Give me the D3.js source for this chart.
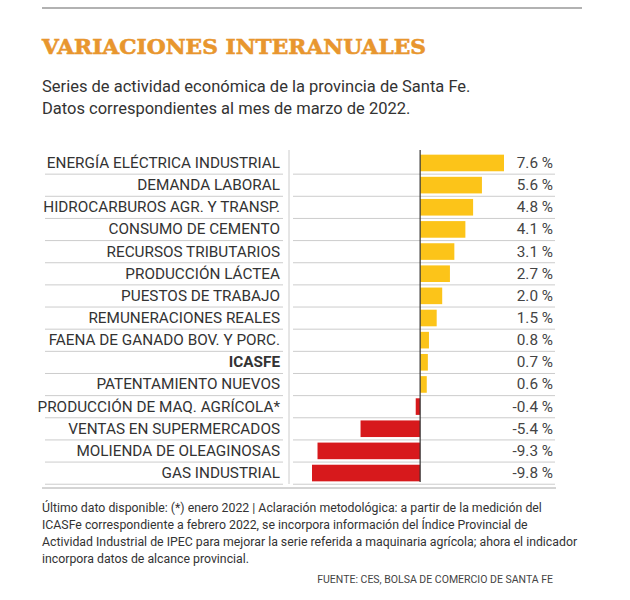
<!DOCTYPE html>
<html><head><meta charset="utf-8">
<script src="https://cdn.jsdelivr.net/npm/d3@7"></script>
<style>body{margin:0;background:#fff}</style></head>
<body><svg id="c" width="630" height="600"></svg>
<script>
const categories=["ENERGÍA ELÉCTRICA INDUSTRIAL","DEMANDA LABORAL","HIDROCARBUROS AGR. Y TRANSP.","CONSUMO DE CEMENTO","RECURSOS TRIBUTARIOS","PRODUCCIÓN LÁCTEA","PUESTOS DE TRABAJO","REMUNERACIONES REALES","FAENA DE GANADO BOV. Y PORC.","ICASFE","PATENTAMIENTO NUEVOS","PRODUCCIÓN DE MAQ. AGRÍCOLA*","VENTAS EN SUPERMERCADOS","MOLIENDA DE OLEAGINOSAS","GAS INDUSTRIAL"];
const values=[7.6,5.6,4.8,4.1,3.1,2.7,2.0,1.5,0.8,0.7,0.6,-0.4,-5.4,-9.3,-9.8];
const valueLabels=["7.6 %","5.6 %","4.8 %","4.1 %","3.1 %","2.7 %","2.0 %","1.5 %","0.8 %","0.7 %","0.6 %","-0.4 %","-5.4 %","-9.3 %","-9.8 %"];
const svg=d3.select("#c");
const F="'Liberation Sans Narrow','Roboto',sans-serif";
svg.append("line").attr("x1",42).attr("x2",582).attr("y1",8).attr("y2",8).attr("stroke","#999").attr("stroke-width",1.5);
svg.append("text").attr("x",42).attr("y",54).text("VARIACIONES INTERANUALES").attr("fill","#E8962E").attr("stroke","#E8962E").attr("stroke-width",0.6).attr("font-family","'DejaVu Serif',serif").attr("font-weight","bold").attr("font-size",21).attr("textLength",384).attr("lengthAdjust","spacingAndGlyphs");
svg.append("text").attr("x",42).attr("y",92).text("Series de actividad económica de la provincia de Santa Fe.").attr("font-family","Roboto,sans-serif").attr("font-size",16.5).attr("fill","#333");
svg.append("text").attr("x",42).attr("y",114).text("Datos correspondientes al mes de marzo de 2022.").attr("font-family","Roboto,sans-serif").attr("font-size",16.5).attr("fill","#333");
const y=d3.scaleBand().domain(categories).range([152,484]).paddingInner(0.25).paddingOuter(0.12);
const x=d3.scaleLinear().domain([-9.8,7.6]).range([312,504]);
const step=y.step();
const g=svg.append("g");
categories.forEach((c,i)=>{
  const ly=152+step*(i+1);
  g.append("line").attr("x1",45).attr("x2",283).attr("y1",ly).attr("y2",ly).attr("stroke","#ccc");
  g.append("line").attr("x1",293).attr("x2",555).attr("y1",ly).attr("y2",ly).attr("stroke","#ccc");
});
svg.append("line").attr("x1",289).attr("x2",289).attr("y1",150).attr("y2",484).attr("stroke","#ccc");
g.selectAll("rect").data(values).join("rect")
 .attr("x",d=>x(Math.min(0,d))).attr("width",d=>Math.abs(x(d)-x(0)))
 .attr("y",(d,i)=>y(categories[i])).attr("height",y.bandwidth())
 .attr("fill",d=>d>=0?"#FCC419":"#D7191C");
svg.append("line").attr("x1",x(0)).attr("x2",x(0)).attr("y1",150).attr("y2",482).attr("stroke","#333").attr("stroke-width",1.2);
g.selectAll(".lab").data(categories).join("text")
 .attr("x",280).attr("y",c=>y(c)+y.bandwidth()/2+5).attr("text-anchor","end").text(c=>c)
 .attr("font-family",F).attr("font-size",15.3).attr("fill","#333").attr("font-weight",c=>c==="ICASFE"?"bold":"normal");
g.selectAll(".val").data(valueLabels).join("text")
 .attr("x",553).attr("y",(d,i)=>y(categories[i])+y.bandwidth()/2+5).attr("text-anchor","end").text(d=>d)
 .attr("font-family",F).attr("font-size",15.3).attr("fill","#444");
svg.append("line").attr("x1",42).attr("x2",556).attr("y1",488).attr("y2",488).attr("stroke","#aaa");
const foot=["Último dato disponible: (*) enero 2022 | Aclaración metodológica: a partir de la medición del","ICASFe correspondiente a febrero 2022, se incorpora información del Índice Provincial de","Actividad Industrial de IPEC para mejorar la serie referida a maquinaria agrícola; ahora el indicador","incorpora datos de alcance provincial."];
foot.forEach((t,i)=>svg.append("text").attr("x",42).attr("y",512+i*17).text(t).attr("font-family",F).attr("font-size",12.3).attr("fill","#333"));
svg.append("text").attr("x",553).attr("y",583).attr("text-anchor","end").text("FUENTE: CES, BOLSA DE COMERCIO DE SANTA FE").attr("font-family",F).attr("font-size",10.5).attr("fill","#444");
</script></body></html>
